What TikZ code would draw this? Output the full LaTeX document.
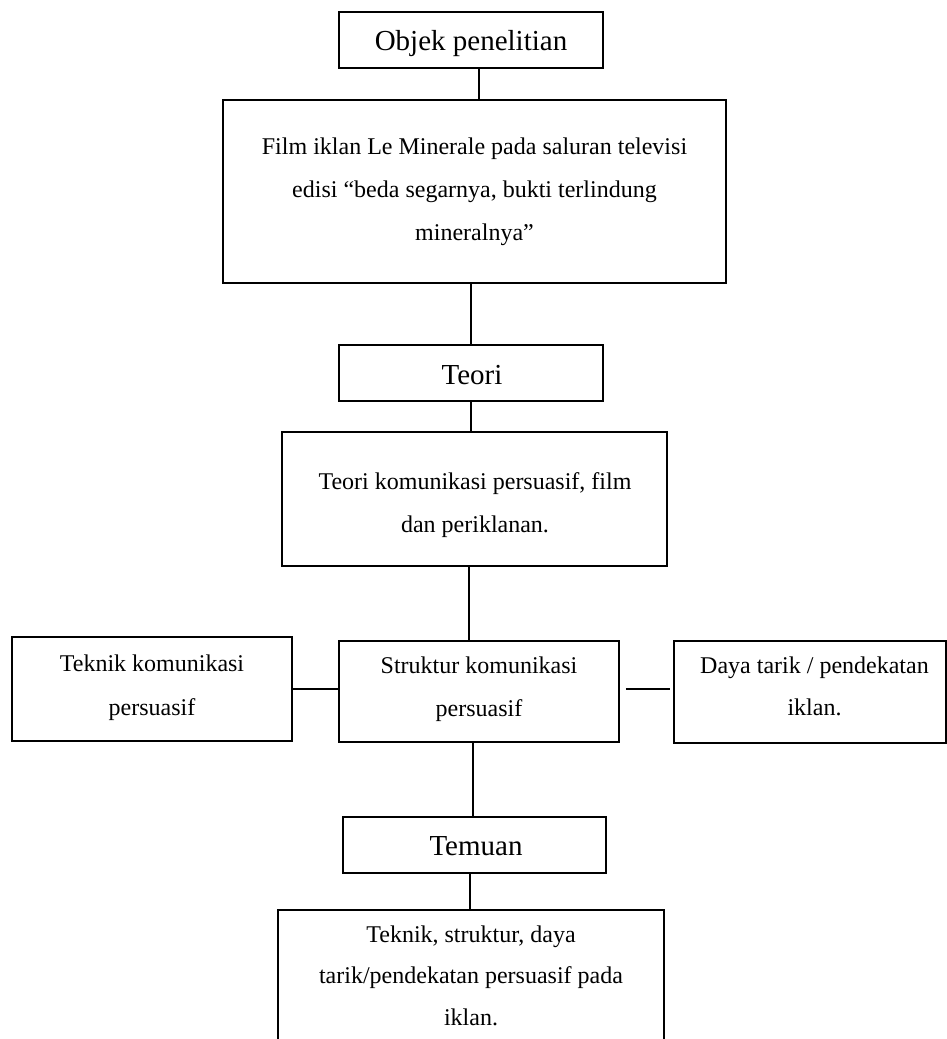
\documentclass[tikz,border=0pt]{standalone}
\usepackage{fontspec}
\setmainfont{Liberation Serif}
\begin{document}
\begin{tikzpicture}[x=1pt,y=-1pt,
  box/.style={draw=black,line width=1.9pt,inner sep=0pt,rectangle},
  link/.style={draw=black,line width=1.9pt},
  body/.style={inner sep=0pt,anchor=base,font=\fontsize{24}{24}\selectfont},
  head/.style={inner sep=0pt,anchor=base,font=\fontsize{29}{29}\selectfont}]
\useasboundingbox (0,0) rectangle (947,1039);
\clip (0,0) rectangle (947,1039);
% boxes
\node[box,minimum width=264pt,minimum height=56pt] (objek) at (471,40) {};
\node[box,minimum width=503pt,minimum height=183pt] (film) at (474.5,191.5) {};
\node[box,minimum width=264pt,minimum height=56pt] (teori) at (471,373) {};
\node[box,minimum width=385pt,minimum height=134pt] (kom) at (474.5,499) {};
\node[box,minimum width=280pt,minimum height=104pt] (teknik) at (152,689) {};
\node[box,minimum width=280pt,minimum height=101pt] (struktur) at (479,691.5) {};
\node[box,minimum width=272pt,minimum height=102pt] (daya) at (810,692) {};
\node[box,minimum width=263pt,minimum height=56pt] (temuan) at (474.5,845) {};
\node[box,minimum width=386pt,minimum height=150pt] (hasil) at (471,985) {};
% texts
\node[head] (tobjek) at (471,50) {Objek penelitian};
\node[body] (tfilm1) at (474.5,154) {Film iklan Le Minerale pada saluran televisi};
\node[body] (tfilm2) at (474.5,197) {edisi “beda segarnya, bukti terlindung};
\node[body] (tfilm3) at (474.5,240) {mineralnya”};
\node[head] (tteori) at (472,384) {Teori};
\node[body] (tkom1) at (475,489) {Teori komunikasi persuasif, film};
\node[body] (tkom2) at (475,532) {dan periklanan.};
\node[body] (tteknik1) at (152,671) {Teknik komunikasi};
\node[body] (tteknik2) at (152,715) {persuasif};
\node[body] (tstruk1) at (479,673) {Struktur komunikasi};
\node[body] (tstruk2) at (479,716) {persuasif};
\node[body] (tdaya1) at (814.5,673) {Daya tarik / pendekatan};
\node[body] (tdaya2) at (814.5,715) {iklan.};
\node[head] (ttemuan) at (476,855) {Temuan};
\node[body] (thasil1) at (471,942) {Teknik, struktur, daya};
\node[body] (thasil2) at (471,983) {tarik/pendekatan persuasif pada};
\node[body] (thasil3) at (471,1025) {iklan.};
% connectors
\draw[link] ([xshift=8pt]objek.south) -- ([xshift=8pt]objek.south |- film.north);
\draw[link] (teori.north |- film.south) -- (teori.north);
\draw[link] (teori.south) -- (teori.south |- kom.north);
\draw[link] ([xshift=-5.5pt]kom.south) -- ([xshift=-5.5pt]kom.south |- struktur.north);
\draw[link] ([xshift=-6pt]struktur.south) -- ([xshift=-6pt]struktur.south |- temuan.north);
\draw[link] ([xshift=-4.5pt]temuan.south) -- ([xshift=-4.5pt]temuan.south |- hasil.north);
\draw[link] (teknik.east) -- (teknik.east -| struktur.west);
\draw[link] ([xshift=6pt,yshift=2.5pt]struktur.east) -- ([xshift=-3pt,yshift=3pt]daya.west);
\end{tikzpicture}
\end{document}
